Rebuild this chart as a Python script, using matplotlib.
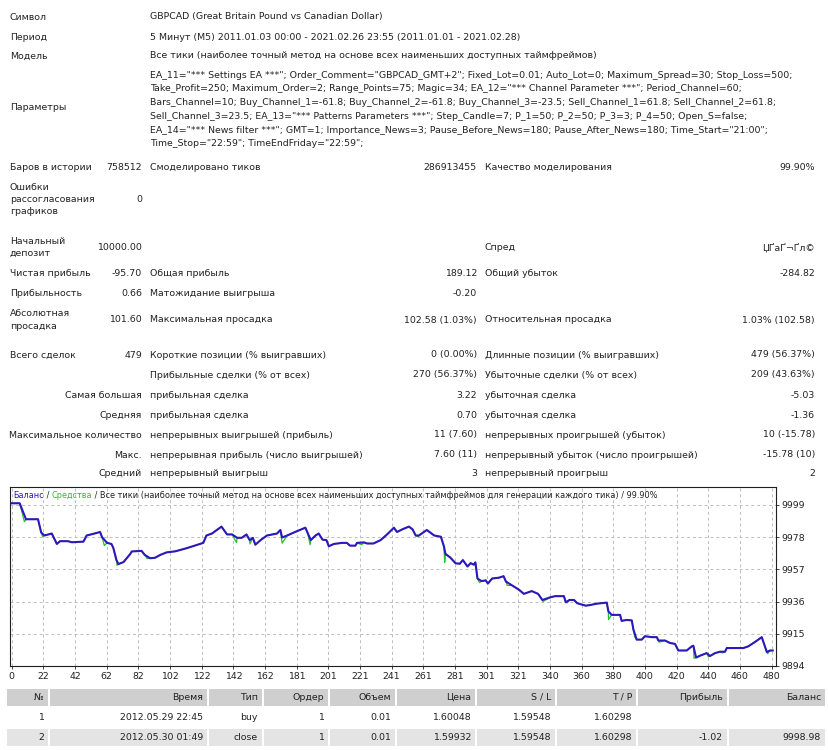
import numpy as np
import matplotlib
matplotlib.use("Agg")
import matplotlib.pyplot as plt
from matplotlib.patches import Rectangle

W, H = 829, 750
FS = 6.75
CAP_FS = 5.85
INK = '#222222'
BLUE = '#2e17bd'
GREEN = '#22c422'
plt.rcParams['font.family'] = ['DejaVu Sans']

# ---- report header ----
top_labels = ['Символ', 'Период', 'Модель']
top_values = ['GBPCAD (Great Britain Pound vs Canadian Dollar)',
              '5 Минут (M5) 2011.01.03 00:00 - 2021.02.26 23:55 (2011.01.01 - 2021.02.28)',
              'Все тики (наиболее точный метод на основе всех наименьших доступных таймфреймов)']
params = [
    'EA_11="*** Settings EA ***"; Order_Comment="GBPCAD_GMT+2"; Fixed_Lot=0.01; Auto_Lot=0; Maximum_Spread=30; Stop_Loss=500;',
    'Take_Profit=250; Maximum_Order=2; Range_Points=75; Magic=34; EA_12="*** Channel Parameter ***"; Period_Channel=60;',
    'Bars_Channel=10; Buy_Channel_1=-61.8; Buy_Channel_2=-61.8; Buy_Channel_3=-23.5; Sell_Channel_1=61.8; Sell_Channel_2=61.8;',
    'Sell_Channel_3=23.5; EA_13="*** Patterns Parameters ***"; Step_Candle=7; P_1=50; P_2=50; P_3=3; P_4=50; Open_S=false;',
    'EA_14="*** News filter ***"; GMT=1; Importance_News=3; Pause_Before_News=180; Pause_After_News=180; Time_Start="21:00";',
    'Time_Stop="22:59"; TimeEndFriday="22:59";',
]

# ---- statistics ----
row_labels = ['Баров в истории', 'Ошибки\nрассогласования\nграфиков', 'Начальный\nдепозит',
              'Чистая прибыль', 'Прибыльность', 'Абсолютная\nпросадка', 'Всего сделок', '',
              'Самая большая', 'Средняя', 'Максимальное количество', 'Макс.', 'Средний']
row_values = ['758512', '0', '10000.00', '-95.70', '0.66', '101.60', '479', '', '', '', '', '', '']
mid_names = ['Смоделировано тиков', '', '', 'Общая прибыль', 'Матожидание выигрыша',
             'Максимальная просадка', 'Короткие позиции (% выигравших)', 'Прибыльные сделки (% от всех)',
             'прибыльная сделка', 'прибыльная сделка', 'непрерывных выигрышей (прибыль)',
             'непрерывная прибыль (число выигрышей)', 'непрерывный выигрыш']
mid_values = ['286913455', '', '', '189.12', '-0.20', '102.58 (1.03%)', '0 (0.00%)', '270 (56.37%)',
              '3.22', '0.70', '11 (7.60)', '7.60 (11)', '3']
right_names = ['Качество моделирования', '', 'Спред', 'Общий убыток', '', 'Относительная просадка',
               'Длинные позиции (% выигравших)', 'Убыточные сделки (% от всех)', 'убыточная сделка',
               'убыточная сделка', 'непрерывных проигрышей (убыток)', 'непрерывный убыток (число проигрышей)',
               'непрерывный проигрыш']
right_values = ['99.90%', '', 'ЏҐаҐ¬Ґл©', '-284.82', '', '1.03% (102.58)', '479 (56.37%)',
                '209 (43.63%)', '-5.03', '-1.36', '10 (-15.78)', '-15.78 (10)', '2']

# ---- balance / equity curve (trade number, deposit) ----
balance_x = [0, 5, 9, 16.6, 18.6, 20.6, 25.3, 28.5, 30.5, 35.5, 38, 45.3, 47.3, 52.3, 55.8, 57, 60.2,
             63, 64.2, 66.1, 67.4, 70.6, 74.9, 75.8, 82, 84, 87.4, 90.5, 93.9, 97.8, 103.3, 110.7,
             115.6, 121, 123, 126.5, 132.5, 136, 139.2, 142.4, 145.3, 148.3, 150.3, 152.3, 153.9,
             157.2, 161.2, 167.6, 169.7, 170.8, 174, 179, 185.5, 186.9, 188.9, 191.9, 193.9, 196.3,
             198.8, 200.3, 203.5, 208.7, 211.7, 213.7, 217.1, 218.1, 222.6, 224.5, 228.5, 233, 237.1,
             241.4, 243.4, 246.7, 250.9, 253.2, 255.2, 257.2, 262.2, 266.9, 271.1, 273, 274, 277,
             280.4, 283, 285, 287.9, 289.9, 291.9, 292.9, 294.2, 296.8, 299.4, 300.8, 303.5, 307.7,
             310.7, 312.2, 316.1, 320.4, 323.5, 328.5, 332.5, 335.2, 340.4, 343.3, 348.8, 350, 352.3,
             355.2, 357.2, 362.6, 365.3, 369.6, 375.9, 376.9, 379, 384.3, 385.3, 388.5, 391.7, 392.7,
             394.8, 398, 400, 404.3, 407.5, 408.5, 412.7, 415.8, 419, 421.1, 426.4, 429.6, 430.6,
             432.3, 434.8, 439, 441.1, 444.3, 447.4, 450.6, 451.7, 462.2, 465.3, 469.6, 473.8, 474.8,
             477, 479, 480.7]
balance_y = [10000, 10000, 9989.6, 9989.6, 9981, 9979, 9980.3, 9973.5, 9975.3, 9975.3, 9974.6, 9975,
             9979, 9980.3, 9981.3, 9978, 9974.2, 9973.5, 9970.8, 9963.1, 9960.4, 9961.7, 9967, 9968.6,
             9969, 9966.4, 9964.2, 9964.5, 9966.4, 9968, 9968.7, 9970.8, 9972.4, 9974.2, 9979, 9980.3,
             9984.8, 9979.7, 9979.7, 9977.5, 9977.5, 9979.7, 9976, 9977.5, 9973, 9976, 9979, 9980.3,
             9982.6, 9977.7, 9979, 9981.3, 9984.1, 9980.8, 9976, 9979, 9980.3, 9976.3, 9976, 9972,
             9973.5, 9974.2, 9974.2, 9972.4, 9972.4, 9974.2, 9974.5, 9973.8, 9973.8, 9976, 9979.7,
             9984.1, 9981.3, 9983, 9984.8, 9983, 9979, 9979, 9982.6, 9979, 9978.2, 9972, 9967, 9964.7,
             9960.9, 9960.6, 9963, 9958.8, 9961, 9960, 9961.5, 9951, 9949.3, 9949.8, 9947.7, 9951,
             9951.5, 9952.5, 9949, 9946.5, 9943.7, 9941, 9942.8, 9941, 9937, 9938.8, 9939.5, 9939.5,
             9935.5, 9937, 9937, 9934.9, 9933.3, 9933.7, 9934.6, 9935.3, 9929.6, 9927.3, 9927.3,
             9923.4, 9924, 9923.7, 9917.8, 9911.2, 9911.2, 9913.4, 9912.8, 9912.8, 9910.6, 9910.6,
             9909, 9908.4, 9904.1, 9904.1, 9906.8, 9907.2, 9899.5, 9900.7, 9902.4, 9900.5, 9902.4,
             9903.3, 9903.3, 9905.7, 9905.7, 9906.8, 9909.7, 9912.8, 9909.7, 9903.1, 9904.1, 9904.1]
# equity drawdowns below balance
dip_x = [8, 19.5, 58.5, 66.5, 85.5, 142, 150.5, 170.8, 188.5, 221, 257, 273.5, 295.5, 313, 335.5,
         351, 377, 393.5, 409, 431, 440, 449, 477.5]
dip_y = [9988, 9978.3, 9972.5, 9959.5, 9964, 9974.4, 9973.6, 9974, 9973, 9973, 9978, 9961.5, 9948.3,
         9946.5, 9936, 9935.2, 9924.3, 9913, 9909.5, 9899, 9900, 9902.5, 9902]

x_tick_labels = ['0', '22', '42', '62', '82', '102', '122', '142', '162', '181', '201', '221', '241',
                 '261', '281', '301', '321', '340', '360', '380', '400', '420', '440', '460', '480']
y_ticks = [9894, 9915, 9936, 9957, 9978, 9999]

chart_title = [('Баланс', BLUE), (' / ', INK), ('Средства', GREEN),
               (' / Все тики (наиболее точный метод на основе всех наименьших доступных таймфреймов '
                'для генерации каждого тика) / 99.90%', INK)]

# ---- deals table ----
table_cols = ['№', 'Время', 'Тип', 'Ордер', 'Объем', 'Цена', 'S / L', 'T / P', 'Прибыль', 'Баланс']
table_rows = [
    ['1', '2012.05.29 22:45', 'buy', '1', '0.01', '1.60048', '1.59548', '1.60298', '', ''],
    ['2', '2012.05.30 01:49', 'close', '1', '0.01', '1.59932', '1.59548', '1.60298', '-1.02', '9998.98'],
]
col_right = [48, 207, 262, 328, 395, 475, 555, 636, 727, 825]

fig = plt.figure(figsize=(W / 100, H / 100), dpi=100)
bg = fig.add_axes([0, 0, 1, 1])
bg.set_xlim(0, W)
bg.set_ylim(H, 0)
bg.axis('off')

def txt(x, y, s, ha='left', **kw):
    kw.setdefault('fontsize', FS)
    kw.setdefault('color', INK)
    bg.text(x, y, s, ha=ha, va='center', **kw)

for lab, val, y in zip(top_labels, top_values, [17, 37, 56]):
    txt(10, y, lab)
    txt(150, y, val)
txt(10, 107, 'Параметры')
for i, line in enumerate(params):
    txt(150, 75 + i * 13.8, line)

row_y = [167, 199.5, 247.5, 274, 293, 320, 355, 375, 395, 415, 435, 455, 474]
for i, y in enumerate(row_y):
    if i < 8:
        txt(10, y, row_labels[i], linespacing=1.45)
    else:
        txt(142, y, row_labels[i], ha='right')
    txt(142, y, row_values[i], ha='right')
    txt(150, y, mid_names[i])
    txt(477, y, mid_values[i], ha='right')
    txt(485, y, right_names[i])
    txt(815, y, right_values[i], ha='right')

# ---- chart ----
x0, x1 = 10, 776
y0, y1 = 487, 666
ax = fig.add_axes([x0 / W, 1 - y1 / H, (x1 - x0) / W, (y1 - y0) / H])
ax.set_xlim(-1.1, 482.8)
ax.set_ylim(9894, 10010.6)

eq_x = np.array(sorted(set(balance_x) | set(dip_x)), dtype=float)
eq_y = np.interp(eq_x, balance_x, balance_y)
for dx, dy in zip(dip_x, dip_y):
    eq_y[eq_x == dx] = dy
ax.plot(eq_x, eq_y, color=GREEN, lw=0.9, zorder=2)
ax.plot(balance_x, balance_y, color=BLUE, lw=1.5, zorder=3)

ax.set_xticks(np.arange(0, 20 * len(x_tick_labels), 20))
ax.set_xticklabels(x_tick_labels)
ax.set_yticks(y_ticks)
ax.yaxis.tick_right()
ax.tick_params(axis='both', labelsize=FS, colors=INK, length=2, width=0.6, pad=2)
ax.grid(True, color='#bdbdbd', ls=(0, (3, 3)), lw=0.7)
for sp in ax.spines.values():
    sp.set_color('#202020')
    sp.set_linewidth(0.8)

# coloured chart caption, pieces placed one after another
fig.canvas.draw()
renderer = fig.canvas.get_renderer()
cx = 13
for s, c in chart_title:
    t = bg.text(cx, 495, s, ha='left', va='center', fontsize=CAP_FS, color=c, zorder=10)
    bb = t.get_window_extent(renderer)
    cx += bb.width
ax.set_zorder(1)
bg.set_zorder(2)
bg.patch.set_visible(False)

# ---- table ----
col_left = [7] + [r + 2 for r in col_right[:-1]]
row_tops = [689, 707.5, 729]
row_h = [17, 19.5, 16.5]
fills = ['#cfcfcf', 'white', '#e4e4e4']
all_rows = [table_cols] + table_rows
for r, cells in enumerate(all_rows):
    for c, s in enumerate(cells):
        bg.add_patch(Rectangle((col_left[c], row_tops[r]), col_right[c] - col_left[c], row_h[r],
                               facecolor=fills[r], edgecolor='none', zorder=1))
        txt(col_right[c] - 4, row_tops[r] + row_h[r] / 2, s, ha='right')

fig.savefig('out.png', dpi=100)
